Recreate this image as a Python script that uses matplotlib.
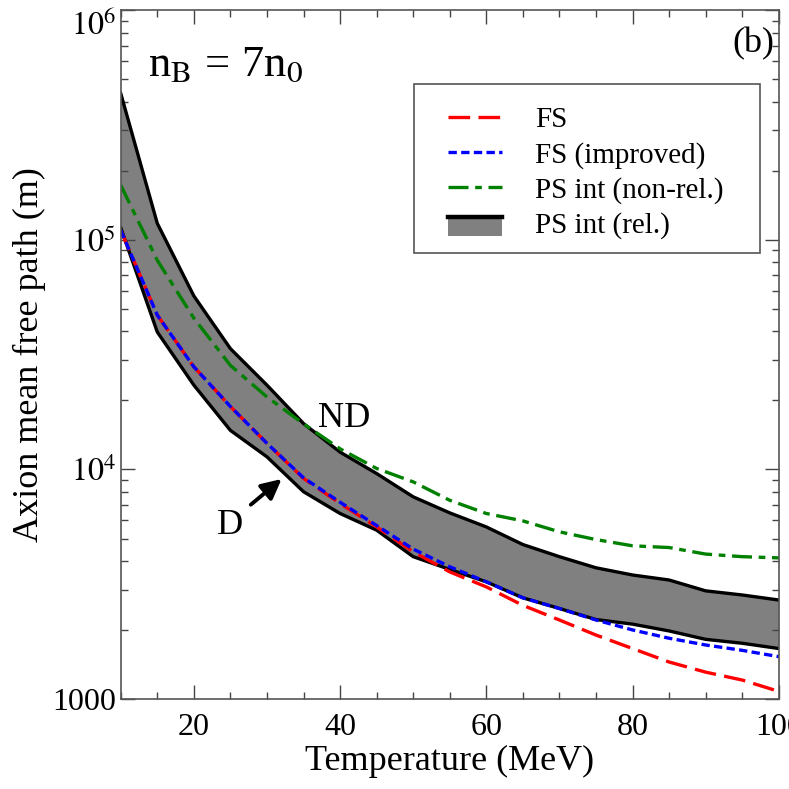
import matplotlib
matplotlib.use('Agg')
import math
import matplotlib.pyplot as plt
from matplotlib.ticker import FixedLocator, LogLocator, MultipleLocator, FuncFormatter, NullFormatter
from matplotlib.patches import Rectangle
from matplotlib.lines import Line2D

plt.rcParams['font.family'] = 'Liberation Serif'
plt.rcParams['mathtext.fontset'] = 'stix'

T = [10, 15, 20, 25, 30, 35, 40, 45, 50, 55, 60, 65, 70, 75, 80, 85, 90, 95, 100]

# PS int (rel.) band: D (lower) and ND (upper)
band_low = [1.13e5, 3.97e4, 2.33e4, 1.48e4, 1.135e4, 8.0e3, 6.43e3, 5.44e3, 4.17e3,
            3.67e3, 3.24e3, 2.76e3, 2.48e3, 2.22e3, 2.12e3, 1.98e3, 1.82e3, 1.75e3, 1.66e3]
band_high = [4.35e5, 1.18e5, 5.7e4, 3.36e4, 2.33e4, 1.585e4, 1.19e4, 9.6e3, 7.6e3,
             6.47e3, 5.62e3, 4.71e3, 4.17e3, 3.73e3, 3.47e3, 3.30e3, 2.96e3, 2.84e3, 2.70e3]
fs = [1.1e5, 4.7e4, 2.8e4, 1.88e4, 1.30e4, 9.14e3, 7.11e3, 5.62e3, 4.38e3,
      3.58e3, 3.08e3, 2.56e3, 2.21e3, 1.90e3, 1.66e3, 1.45e3, 1.31e3, 1.21e3, 1.08e3]
fs_imp = [1.1e5, 4.7e4, 2.8e4, 1.88e4, 1.30e4, 9.2e3, 7.2e3, 5.7e3, 4.5e3,
          3.77e3, 3.24e3, 2.76e3, 2.48e3, 2.21e3, 2.0e3, 1.84e3, 1.72e3, 1.63e3, 1.53e3]
ps_nonrel = [1.73e5, 8.15e4, 4.56e4, 2.84e4, 2.07e4, 1.58e4, 1.23e4, 1.01e4, 8.83e3,
             7.34e3, 6.43e3, 5.97e3, 5.35e3, 4.95e3, 4.65e3, 4.57e3, 4.28e3, 4.17e3, 4.12e3]

labels = ['FS', 'FS (improved)', 'PS int (non-rel.)', 'PS int (rel.)']


class BandHandler:
    # gray box with a black line along its top, like the band
    def legend_artist(self, legend, orig_handle, fontsize, handlebox):
        w, h = handlebox.width, handlebox.height
        r = Rectangle((0, -0.15 * h), w, 1.0 * h, facecolor='#808080',
                      edgecolor='none', transform=handlebox.get_transform())
        l = Line2D([0, w], [0.8 * h, 0.8 * h], color='black', lw=3.2,
                   transform=handlebox.get_transform())
        handlebox.add_artist(r)
        handlebox.add_artist(l)
        return r


fig = plt.figure(figsize=(7.89, 7.89), dpi=100)
ax = fig.add_axes([0.153, 0.114, 0.834, 0.873])

ax.fill_between(T, band_low, band_high, color='#808080', lw=0)
ax.plot(T, band_low, color='black', lw=2.4)
ax.plot(T, band_high, color='black', lw=2.4)
l1, = ax.plot(T, fs, color='red', lw=2.4, dashes=(6.5, 2.5))
l2, = ax.plot(T, fs_imp, color='blue', lw=2.4, dashes=(2.5, 1.3))
l3, = ax.plot(T, ps_nonrel, color='green', lw=2.4, dashes=(6, 2, 2, 2))
band_proxy = Rectangle((0, 0), 1, 1)

ax.set_yscale('log')
ax.set_xlim(10, 100)
ax.set_ylim(1000, 1e6)

ax.xaxis.set_major_locator(FixedLocator([20, 40, 60, 80, 100]))
ax.xaxis.set_minor_locator(MultipleLocator(5))
ax.yaxis.set_major_locator(FixedLocator([1e3, 1e4, 1e5, 1e6]))
ax.yaxis.set_minor_locator(LogLocator(base=10, subs=range(2, 10)))
ax.yaxis.set_minor_formatter(NullFormatter())


def yfmt(v, pos):
    if v < 5000:
        return '1000'
    return r'$10^{%d}$' % int(round(math.log10(v)))


ax.yaxis.set_major_formatter(FuncFormatter(yfmt))

ax.tick_params(which='both', direction='in', top=True, right=True, colors='#444444',
               labelcolor='black', labelsize=23)
ax.tick_params(which='major', length=10, width=1)
ax.tick_params(which='minor', length=5, width=1)
ax.tick_params(axis='x', pad=10)
for s in ax.spines.values():
    s.set_color('#555555')
    s.set_linewidth(1.2)

ax.set_xlabel('Temperature (MeV)', fontsize=26, labelpad=2)
ax.set_ylabel('Axion mean free path (m)', fontsize=26, labelpad=4)

ax.text(0.041, 0.92, r'n$_\mathrm{B}$ = 7n$_0$', transform=ax.transAxes,
        fontsize=32, va='center', ha='left')
ax.text(0.994, 0.952, '(b)', transform=ax.transAxes, fontsize=26, va='center', ha='right')
ax.text(40.5, 1.67e4, 'ND', fontsize=26, ha='center', va='center')
ax.text(25, 5.7e3, 'D', fontsize=26, ha='center', va='center')
ax.annotate('', xy=(32.3, 9.25e3), xytext=(27.5, 6.9e3),
            arrowprops=dict(arrowstyle='-|>', color='black', lw=2.8, mutation_scale=30))

# legend box drawn by hand so its padding can be wider than tall
ax.add_patch(Rectangle((0.445, 0.647), 0.526, 0.246, transform=ax.transAxes,
                       facecolor='white', edgecolor='#555555', lw=1.2, zorder=4))
leg = ax.legend([l1, l2, l3, band_proxy], labels, loc='upper left',
                bbox_to_anchor=(0.497, 0.860), fontsize=21, frameon=False,
                handlelength=1.85, handletextpad=1.15,
                labelspacing=0.29, borderpad=0, borderaxespad=0,
                handler_map={band_proxy: BandHandler()})
leg.set_zorder(5)

# the top label sits just under the spine, as in the original
fig.canvas.draw()
ax.yaxis.get_major_ticks()[-1].label1.set_va('top')

fig.savefig('out.png', dpi=100)
